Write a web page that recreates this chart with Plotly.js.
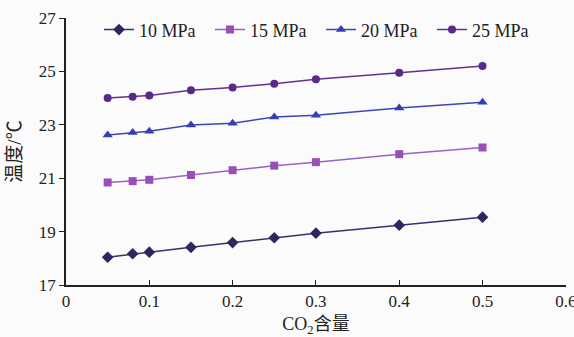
<!DOCTYPE html>
<html><head><meta charset="utf-8">
<script src="https://cdn.plot.ly/plotly-3.0.1.min.js"></script>
<style>html,body{margin:0;padding:0;background:#fbfbfb;overflow:hidden;}#c{width:574px;height:337px;}</style>
</head><body><div id="c"></div>
<script>
const co2 = [0.05, 0.08, 0.1, 0.15, 0.2, 0.25, 0.3, 0.4, 0.5];
const t10 = [18.04, 18.17, 18.23, 18.41, 18.59, 18.77, 18.94, 19.24, 19.54];
const t15 = [20.84, 20.89, 20.94, 21.12, 21.30, 21.47, 21.60, 21.90, 22.15];
const t20 = [22.62, 22.71, 22.76, 22.99, 23.06, 23.29, 23.36, 23.63, 23.84];
const t25 = [24.00, 24.05, 24.10, 24.29, 24.40, 24.54, 24.71, 24.95, 25.20];
const names = ['10 MPa', '15 MPa', '20 MPa', '25 MPa'];
const xTicks = [0, 0.1, 0.2, 0.3, 0.4, 0.5, 0.6];
const xTickText = ['0', '0.1', '0.2', '0.3', '0.4', '0.5', '0.6'];
const yTicks = [17, 19, 21, 23, 25, 27];

const serif = '"Liberation Serif", "Times New Roman", "Noto Sans CJK SC", serif';
const series = [t10, t15, t20, t25];
const lineColors = ['#3a2f6e', '#9a62c4', '#3f45b8', '#62308e'];
const markerColors = ['#2e2660', '#9a4fb8', '#3540b0', '#5a2888'];
const symbols = ['diamond', 'square', 'triangle-up', 'circle'];
const sizes = [9, 8, 9, 8];

const data = series.map((y, i) => ({
  x: co2, y: y, name: names[i], type: 'scatter', mode: 'lines+markers',
  line: {color: lineColors[i], width: 1.5},
  marker: {symbol: symbols[i], color: markerColors[i], size: sizes[i]}
}));

const layout = {
  width: 574, height: 337,
  margin: {l: 66, r: 8, t: 18, b: 52},
  paper_bgcolor: '#fbfbfb', plot_bgcolor: '#fbfbfb',
  font: {family: serif, size: 17, color: '#222'},
  showlegend: true,
  legend: {orientation: 'h', x: 0.066, y: 1.025, xanchor: 'left', yanchor: 'top',
           bgcolor: 'rgba(0,0,0,0)', font: {family: serif, size: 18, color: '#222'},
           itemwidth: 30, entrywidth: 66, entrywidthmode: 'pixels', tracegroupgap: 0},
  xaxis: {range: [0, 0.6002], tickvals: xTicks, ticktext: xTickText, showgrid: false, zeroline: false,
          showline: true, linecolor: '#222', linewidth: 1.5, ticks: 'inside', ticklen: 5, tickcolor: '#222',
          tickfont: {family: serif, size: 17}, ticklabeloverflow: 'allow',
          title: {text: 'CO<sub>2</sub>含量', font: {family: serif, size: 18}, standoff: 12}},
  yaxis: {range: [17, 27], tickvals: yTicks, showgrid: false, zeroline: false,
          showline: true, linecolor: '#222', linewidth: 1.5, ticks: 'outside', ticklen: 5, tickcolor: '#222',
          tickfont: {family: serif, size: 17},
          title: {text: '温度/℃', font: {family: serif, size: 19}, standoff: 12}}
};
Plotly.newPlot('c', data, layout, {displayModeBar: false});
</script></body></html>
